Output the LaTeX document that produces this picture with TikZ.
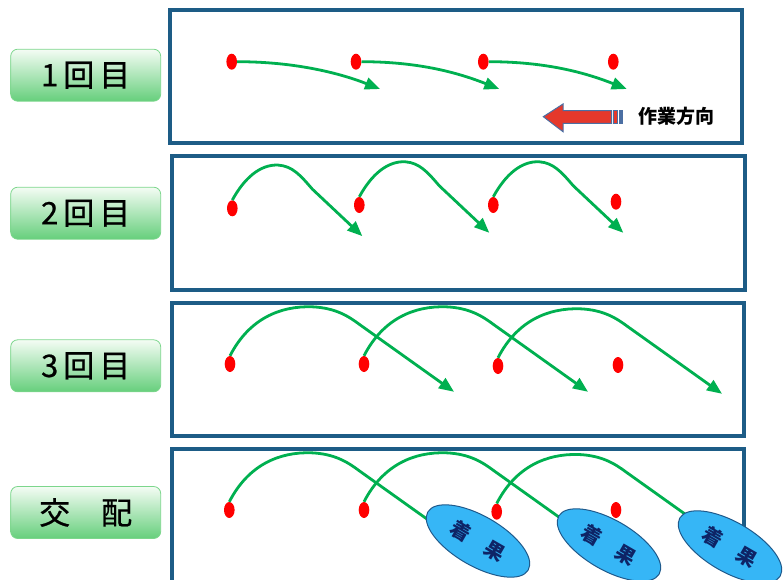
\documentclass[tikz,border=0pt]{standalone}
\usepackage{fontspec}
\newfontfamily\cjk{Noto Sans CJK JP}
\newfontfamily\cjklab{Noto Sans CJK JP}[FakeBold=0.6]
\usetikzlibrary{shapes.geometric,arrows.meta}
\definecolor{boxblue}{HTML}{1D5C86}
\definecolor{arrgreen}{HTML}{00B050}
\definecolor{dotred}{HTML}{FF0000}
\definecolor{ellfill}{HTML}{36B6F6}
\definecolor{elldraw}{HTML}{1F5A8C}
\definecolor{navy}{HTML}{0E2466}
\definecolor{labtop}{HTML}{F4FCF4}
\definecolor{labbot}{HTML}{66CF7C}
\definecolor{labedge}{HTML}{7CD68C}
\definecolor{bigred}{HTML}{E5382B}
\definecolor{bigedge}{HTML}{4B6FA3}
\tikzset{
  frame/.style={draw=boxblue, line width=4pt},
  lab/.style={rounded corners=7pt, minimum width=150pt, minimum height=52pt,
    draw=labedge, line width=0.8pt, top color=labtop, bottom color=labbot,
    inner sep=0pt, font=\cjklab\fontsize{31}{31}\selectfont},
  rdot/.style={ellipse, fill=dotred, minimum width=10.6pt, minimum height=16pt, inner sep=0pt},
  garrow/.style={draw=arrgreen, line width=2.8pt, -{Triangle[length=15pt,width=12pt]}},
  gline/.style={draw=arrgreen, line width=2.8pt},
  fruit/.style={ellipse, draw=elldraw, line width=1pt, fill=ellfill,
    minimum width=116pt, minimum height=50pt, inner sep=0pt, rotate=-30,
    text=navy, font=\cjk\bfseries\fontsize{20}{20}\selectfont},
  dirtext/.style={font=\cjk\bfseries\fontsize{19}{19}\selectfont, inner sep=0pt}
}
\begin{document}
\begin{tikzpicture}[x=1pt,y=-1pt]
\useasboundingbox (0,0) rectangle (784,580);
% frames
\draw[frame] (170,10.5) rectangle (742,143.5);
\draw[frame] (172,156) rectangle (744.5,289.5);
\draw[frame] (172,302.5) rectangle (744,436);
\draw[frame] (172,600) -- (172,449) -- (744,449) -- (744,600);
% labels
\node[lab] (L1) at (85.7,75.2) {1\hspace{5pt}回\hspace{5pt}目};
\node[lab] (L2) at (85.7,213.2) {2\hspace{5pt}回\hspace{5pt}目};
\node[lab] (L3) at (85.7,365.8) {3\hspace{5pt}回\hspace{5pt}目};
\node[lab] (L4) at (85.7,512.5) {交　配};
% row 1
\node[rdot] (d11) at (231.7,61.7) {};
\node[rdot] (d12) at (356,61.7) {};
\node[rdot] (d13) at (483.3,61.7) {};
\node[rdot] (d14) at (613.3,61.7) {};
\coordinate (t11) at (380,89);
\coordinate (t12) at (499.3,89);
\coordinate (t13) at (626.7,89);
\draw[garrow] (d11.east) .. controls +(60,0) and +(-38,-15) .. (t11);
\draw[garrow] (d12.east) .. controls +(60,0) and +(-38,-15) .. (t12);
\draw[garrow] (d13.east) .. controls +(60,0) and +(-38,-15) .. (t13);
% direction arrow
\draw[fill=bigred, draw=bigedge, line width=1pt, line join=miter]
  (543.3,116.7) -- (563,104) -- (563,110.7) -- (611.7,110.7) -- (611.7,123.3)
  -- (563,123.3) -- (563,131.7) -- cycle;
\draw[fill=bigred, draw=bigedge, line width=0.8pt] (613.5,110.7) rectangle (617,123.3);
\draw[fill=bigedge, draw=bigedge, line width=0.8pt] (619,110.7) rectangle (622.5,123.3);
\node[dirtext] (dir) at (676,116.5) {作業方向};
% row 2
\node[rdot] (d21) at (232.3,208.3) {};
\node[rdot] (d22) at (359.3,205) {};
\node[rdot] (d23) at (493.3,205) {};
\node[rdot] (d24) at (616,201.7) {};
\foreach \d in {d21,d22,d23}{
  \draw[garrow] (\d.north) .. controls +(12,-22) and +(-18,-1) .. ++(46,-35)
     .. controls +(14,1) and +(-12,-14) .. ++(34,24) -- ++(50,47);
}
% row 3
\node[rdot] (d31) at (230,364) {};
\node[rdot] (d32) at (364,364) {};
\node[rdot] (d33) at (498,366) {};
\node[rdot] (d34) at (618,365) {};
\foreach \d in {d31,d32,d33}{
  \draw[garrow] (\d.north) .. controls +(19,-37) and +(-32,-1) .. ++(82,-49)
     .. controls +(23,1) and +(-12,-9) .. ++(48,18) -- ++(94,67);
}
% row 4
\node[rdot] (d41) at (229.3,510) {};
\node[rdot] (d42) at (364,510) {};
\node[rdot] (d43) at (496.7,511.7) {};
\node[rdot] (d44) at (616,510) {};
\foreach \d in {d41,d42,d43}{
  \draw[gline] (\d.north) .. controls +(19,-37) and +(-32,-1) .. ++(82,-49)
     .. controls +(23,1) and +(-12,-9) .. ++(48,18) -- ++(94,67);
}
\node[fruit] (e1) at (478,541) {着\hspace{20pt}果};
\node[fruit] (e2) at (609,545) {着\hspace{20pt}果};
\node[fruit] (e3) at (730,547) {着\hspace{20pt}果};
\end{tikzpicture}
\end{document}
